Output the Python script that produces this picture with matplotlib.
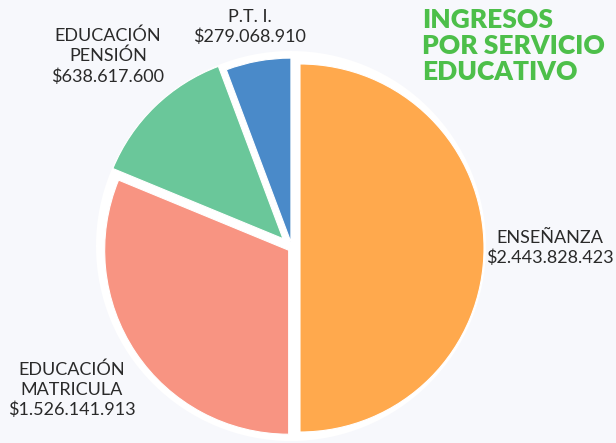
import matplotlib.pyplot as plt
from matplotlib.patches import Circle

# data
labels = ["ENSEÑANZA", "EDUCACIÓN\nMATRICULA", "EDUCACIÓN\nPENSIÓN", "P.T. I."]
values = [2443828423, 1526141913, 638617600, 279068910]
amounts = ["$2.443.828.423", "$1.526.141.913", "$638.617.600", "$279.068.910"]
colors = ["#FFA94D", "#F89482", "#6AC79A", "#4A8AC9"]
title = "INGRESOS\nPOR SERVICIO\nEDUCATIVO"

bg = "#F7F8FC"
fig = plt.figure(figsize=(6.16, 4.43), dpi=100, facecolor=bg)
ax = fig.add_axes([0, 0, 1, 1])
ax.set_facecolor(bg)

# white disc behind the pie
ax.add_patch(Circle((291, 197), 195, facecolor="white", edgecolor="none", zorder=0))

# pie drawn in pixel units, so explode offsets are in pixels too
ax.pie(values, colors=colors, startangle=90, counterclock=False,
       center=(292, 195), radius=184, frame=True, explode=[8, 4, 13, 6],
       wedgeprops=dict(edgecolor="white", linewidth=0.8, zorder=1))
ax.set_xlim(0, 616)
ax.set_ylim(0, 443)
ax.set_aspect("equal")
ax.axis("off")

# label positions (pixels from top-left)
label_pos = [(550, 248), (72, 390), (108, 56), (250, 27)]
for lab, amt, (x, y) in zip(labels, amounts, label_pos):
    ax.text(x, 443 - y, lab + "\n" + amt, ha="center", va="center",
            fontsize=13, color="#2a2a2a", family="Lato",
            linespacing=1.3)

ax.text(422, 443 - 46, title, ha="left", va="center", fontsize=19,
        fontweight="heavy", color="#4DBF4A", family="Lato", linespacing=1.1)

fig.savefig("out.png", dpi=100, facecolor=bg)
